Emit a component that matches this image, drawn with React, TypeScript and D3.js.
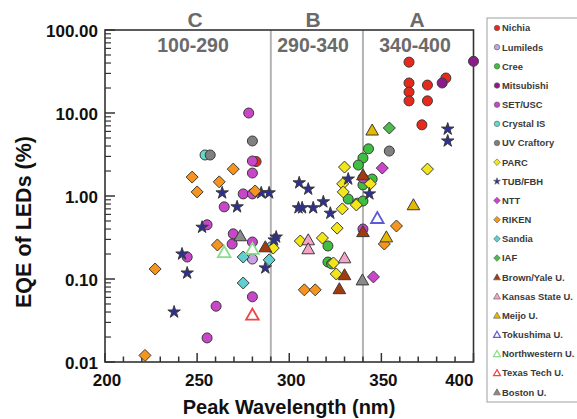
import React from 'react';
import * as d3 from 'd3';

const W = 577, H = 419;

// [peak wavelength nm, EQE %]
const nichia = [[365, 41], [385, 26.4], [365, 23], [365, 17.9], [365, 14], [375, 21.7], [375, 14], [372, 7.2], [282, 2.6]];
const lumileds = [[280, 0.174]];
const cree = [[343, 3.7], [340, 2.87], [337.5, 2.36], [340, 1.36], [345, 1.6], [332, 0.92], [337, 0.82], [340, 0.87], [321, 0.25], [321, 0.16], [323, 0.152]];
const mitsubishi = [[400, 42], [383, 23]];
const setUsc = [[278, 10], [280, 2.64], [280, 1.89], [275, 1.06], [280, 1.06], [264.7, 0.74], [255.4, 0.45], [269.6, 0.35], [269, 0.264], [280, 0.279], [244.6, 0.184], [280, 0.061], [260.3, 0.047], [255.4, 0.0195], [340, 0.40], [340, 1.65]];
const crystalIS = [[254.3, 3.12], [290.2, 0.243]];
const uvCraftory = [[257.1, 3.12], [280, 4.6], [354.3, 3.48]];
const parc = [[375, 2.11], [330, 2.23], [344, 1.4], [329, 1.4], [329.3, 1.12], [336.4, 0.78], [328.8, 0.7], [326, 0.41], [306, 0.287], [318, 0.312], [324, 0.156], [325.5, 0.115], [291.3, 0.236]];
const tubFbh = [[386, 6.4], [386, 4.6], [332, 1.6], [343.5, 1.06], [305.4, 1.44], [310.3, 1.21], [305, 0.72], [307, 0.72], [313, 0.72], [318.5, 0.85], [322.3, 0.62], [263.6, 1.09], [271.7, 0.74], [284.8, 1.09], [289.1, 1.09], [252.7, 0.42], [292.9, 0.32], [291.8, 0.295], [287, 0.136], [241.8, 0.2], [244.6, 0.118], [237.5, 0.04]];
const ntt = [[350.5, 2.17], [345.7, 0.106]];
const riken = [[247.3, 1.69], [250, 1.12], [262, 1.48], [269.6, 2.11], [281.5, 1.15], [261, 0.257], [227.2, 0.132], [221.7, 0.012], [308.2, 0.074], [314.1, 0.074], [358.2, 0.435], [351.6, 0.264]];
const sandia = [[275, 0.184], [275, 0.0895], [289.1, 0.17]];
const iaf = [[354.3, 6.6]];
const brownYale = [[340, 1.79], [340, 0.37], [330, 0.112], [327.2, 0.076], [287, 0.243]];
const kansas = [[310.3, 0.295], [310.3, 0.23], [330, 0.179]];
const meijo = [[345, 6.2], [367.4, 0.78], [352.7, 0.32]];
const tokushima = [[347.8, 0.54]];
const northwestern = [[264.7, 0.21], [280, 0.23]];
const texasTech = [[280, 0.037]];
const boston = [[273.4, 0.33], [339.7, 0.097]];

const seriesNames = ['Nichia', 'Lumileds', 'Cree', 'Mitsubishi', 'SET/USC', 'Crystal IS', 'UV Craftory', 'PARC', 'TUB/FBH', 'NTT', 'RIKEN', 'Sandia', 'IAF', 'Brown/Yale U.', 'Kansas State U.', 'Meijo U.', 'Tokushima U.', 'Northwestern U.', 'Texas Tech U.', 'Boston U.'];
const seriesData = [nichia, lumileds, cree, mitsubishi, setUsc, crystalIS, uvCraftory, parc, tubFbh, ntt, riken, sandia, iaf, brownYale, kansas, meijo, tokushima, northwestern, texasTech, boston];
const seriesShapes = ['circle', 'circle', 'circle', 'circle', 'circle', 'circle', 'circle', 'diamond', 'star', 'diamond', 'diamond', 'diamond', 'diamond', 'triangle', 'triangle', 'triangle', 'triangle', 'triangle', 'triangle', 'triangle'];
const seriesColors = ['#e8281a', '#c6a2e2', '#3fbf3f', '#8c1c8c', '#c846c8', '#66d9cc', '#808080', '#f2e61a', '#2e3192', '#cc44cc', '#f7941d', '#5fcfcf', '#4cbb4c', '#a33a0e', '#f5a3c7', '#e6b800', '#5b5bd6', '#88dd88', '#ee4444', '#8a8a8a'];
const seriesOpen = [false, false, false, false, false, false, false, false, false, false, false, false, false, false, false, false, true, true, true, false];

const xTicksMajor = [200, 250, 300, 350, 400];
const yTicksMajor = [0.01, 0.1, 1, 10, 100];
const regionBounds = [290, 340];
const regionLetters = ['C', 'B', 'A'];
const regionRanges = ['100-290', '290-340', '340-400'];

const FONT = '"Liberation Sans", Arial, Helvetica, sans-serif';

function shapePath(shape: string, s: number): string {
  if (shape === 'circle') return d3.symbol(d3.symbolCircle, Math.PI * 25 * s * s)()!;
  if (shape === 'star') return d3.symbol(d3.symbolStar, 48 * s * s)()!;
  if (shape === 'diamond') {
    const a = 6 * s;
    return `M0,${-a}L${a},0L0,${a}L${-a},0Z`;
  }
  const w = 6.3 * s, t = 6.2 * s, b = 4.8 * s;
  return `M0,${-t}L${w},${b}L${-w},${b}Z`;
}

export default function App() {
  const x = d3.scaleLinear().domain([200, 400]).range([105, 473.5]);
  const y = d3.scaleLog().domain([0.01, 100]).range([362, 30]);
  const left = x(200), right = x(400), top = y(100), bottom = y(0.01);

  const xMinor = d3.range(210, 400, 10).filter(v => v % 50 !== 0);
  const yMinor: number[] = [];
  [0.01, 0.1, 1, 10].forEach(d => { for (let k = 2; k <= 9; k++) yMinor.push(d * k); });

  const letterX = [195, 313, 417];
  const rangeX = [193, 313, 415];

  return (
    <svg width={W} height={H} style={{ position: 'absolute', left: 0, top: 0, background: '#fff' }} fontFamily={FONT}>
      <rect x={0} y={0} width={W} height={H} fill="#fff" />
      {regionBounds.map(b => (
        <line key={b} x1={x(b)} x2={x(b)} y1={top} y2={bottom} stroke="#b4b4b4" strokeWidth={2} />
      ))}
      {regionLetters.map((l, i) => (
        <text key={l} x={letterX[i]} y={27} textAnchor="middle" fontSize={21} fontWeight="bold" fill="#6a6a6a">{l}</text>
      ))}
      {regionRanges.map((r, i) => (
        <text key={r} x={rangeX[i]} y={52} textAnchor="middle" fontSize={19.5} fontWeight="bold" fill="#6a6a6a">{r}</text>
      ))}
      <rect x={left} y={top} width={right - left} height={bottom - top} fill="none" stroke="#333" strokeWidth={1.6} />
      {xTicksMajor.map(t => (
        <line key={'xM' + t} x1={x(t)} x2={x(t)} y1={bottom} y2={bottom - 9} stroke="#333" strokeWidth={1.5} />
      ))}
      {xMinor.map(t => (
        <line key={'xm' + t} x1={x(t)} x2={x(t)} y1={bottom} y2={bottom - 5.5} stroke="#333" strokeWidth={1.5} />
      ))}
      {xTicksMajor.map(t => (
        <text key={'xl' + t} x={t === 400 ? right : x(t) + 2} y={386} textAnchor={t === 400 ? 'end' : 'middle'} fontSize={17} fontWeight="bold" fill="#111">{t}</text>
      ))}
      {yTicksMajor.map(t => (
        <line key={'yM' + t} x1={left} x2={left + 10} y1={y(t)} y2={y(t)} stroke="#333" strokeWidth={1.5} />
      ))}
      {yMinor.map(t => (
        <line key={'ym' + t} x1={left} x2={left + 6} y1={y(t)} y2={y(t)} stroke="#333" strokeWidth={1.2} />
      ))}
      {yTicksMajor.map(t => (
        <text key={'yl' + t} x={98} y={y(t) + 7} textAnchor="end" fontSize={17} fontWeight="bold" fill="#111">{d3.format('.2f')(t)}</text>
      ))}
      <text x={289} y={414} textAnchor="middle" fontSize={20} fontWeight="bold" fill="#111">Peak Wavelength (nm)</text>
      <text transform="translate(31,222) rotate(-90)" textAnchor="middle" fontSize={21.5} fontWeight="bold" fill="#111">EQE of LEDs (%)</text>
      {seriesData.map((data, si) => (
        <g key={seriesNames[si]}>
          {data.map((d, i) => (
            <path key={i} d={shapePath(seriesShapes[si], 1)}
              transform={`translate(${x(d[0])},${y(d[1])})`}
              fill={seriesOpen[si] ? '#fff' : seriesColors[si]}
              stroke={seriesOpen[si] ? seriesColors[si] : '#3a3a3a'}
              strokeWidth={seriesOpen[si] ? 1.8 : 1} />
          ))}
        </g>
      ))}
      <rect x={487} y={18} width={100} height={384} fill="#fff" stroke="#a0a0a0" strokeWidth={1} />
      {seriesNames.map((n, i) => {
        const ly = 28 + i * 19.17;
        return (
          <g key={'lg' + n} transform={`translate(497,${ly})`}>
            <path d={shapePath(seriesShapes[i], 0.55)}
              fill={seriesOpen[i] ? '#fff' : seriesColors[i]}
              stroke={seriesOpen[i] ? seriesColors[i] : '#555'}
              strokeWidth={seriesOpen[i] ? 1.2 : 0.6} />
            <text x={5} y={3.4} fontSize={9.4} fontWeight="bold" fill="#3a3a3a">{n}</text>
          </g>
        );
      })}
    </svg>
  );
}
